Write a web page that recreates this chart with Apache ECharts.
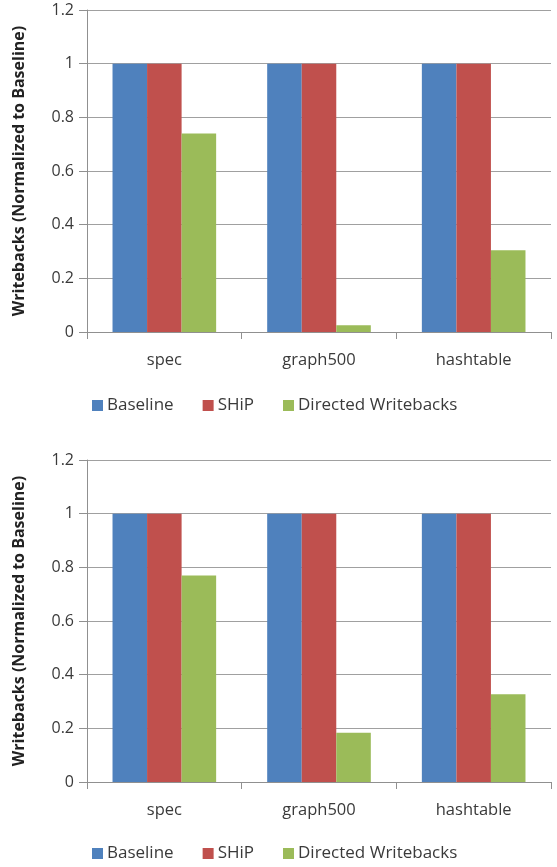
<!DOCTYPE html>
<html><head><meta charset="utf-8">
<script src="https://cdn.jsdelivr.net/npm/echarts@6/dist/echarts.min.js"></script>
<style>html,body{margin:0;padding:0;background:#fff}#c{width:557px;height:867px}</style>
</head><body><div id="c"></div>
<script>
const categories = ['spec', 'graph500', 'hashtable'];
const seriesNames = ['Baseline', 'SHiP', 'Directed Writebacks'];
const top_baseline = [1, 1, 1];
const top_ship = [1, 1, 1];
const top_directed = [0.74, 0.025, 0.305];
const bot_baseline = [1, 1, 1];
const bot_ship = [1, 1, 1];
const bot_directed = [0.77, 0.184, 0.327];
const yTicks = [0, 0.2, 0.4, 0.6, 0.8, 1, 1.2];
const yName = 'Writebacks (Normalized to Baseline)';
const colors = ['#4F81BD', '#C0504D', '#9BBB59'];
const FONT = '"Open Sans", Lato, sans-serif';

const chart = echarts.init(document.getElementById('c'), null, {renderer: 'canvas'});
function xAx(i) {
  return {
    type: 'category', gridIndex: i, data: categories,
    axisLine: {lineStyle: {color: '#909090', width: 1}},
    axisTick: {show: true, length: 7, lineStyle: {color: '#909090'}},
    axisLabel: {color: '#3a3a3a', fontSize: 16.5, fontFamily: FONT, margin: 20}
  };
}
function yAx(i) {
  return {
    type: 'value', gridIndex: i, min: yTicks[0], max: yTicks[yTicks.length - 1], interval: 0.2,
    name: yName, nameLocation: 'middle', nameGap: 60,
    nameTextStyle: {fontSize: 16, fontWeight: 'bold', color: '#222', fontFamily: FONT},
    axisLine: {show: true, lineStyle: {color: '#909090', width: 1}},
    axisTick: {show: true, length: 8, lineStyle: {color: '#909090'}},
    splitLine: {lineStyle: {color: '#a0a0a0', width: 1}},
    axisLabel: {color: '#3a3a3a', fontSize: 16, fontFamily: FONT, margin: 13,
      formatter: v => String(Math.round(v * 10) / 10)}
  };
}
function legend(topPx) {
  return {
    top: topPx, left: 87, data: seriesNames, icon: 'rect', itemWidth: 11, itemHeight: 11,
    itemGap: 29, textStyle: {color: '#3a3a3a', fontSize: 17, fontFamily: FONT, padding: [0, 0, 0, -1]}
  };
}
const sets = [[top_baseline, top_ship, top_directed], [bot_baseline, bot_ship, bot_directed]];
const series = [];
sets.forEach((arrs, g) => {
  arrs.forEach((d, k) => {
    series.push({
      name: seriesNames[k], type: 'bar', xAxisIndex: g, yAxisIndex: g, data: d,
      barGap: '0%', barCategoryGap: '33%', itemStyle: {color: colors[k]}, animation: false
    });
  });
});
chart.setOption({
  animation: false,
  color: colors,
  grid: [
    {left: 87, right: 6, top: 10, height: 322},
    {left: 87, right: 6, top: 460, height: 322}
  ],
  xAxis: [xAx(0), xAx(1)],
  yAxis: [yAx(0), yAx(1)],
  legend: [legend(392), legend(840)],
  series: series
});
</script></body></html>
